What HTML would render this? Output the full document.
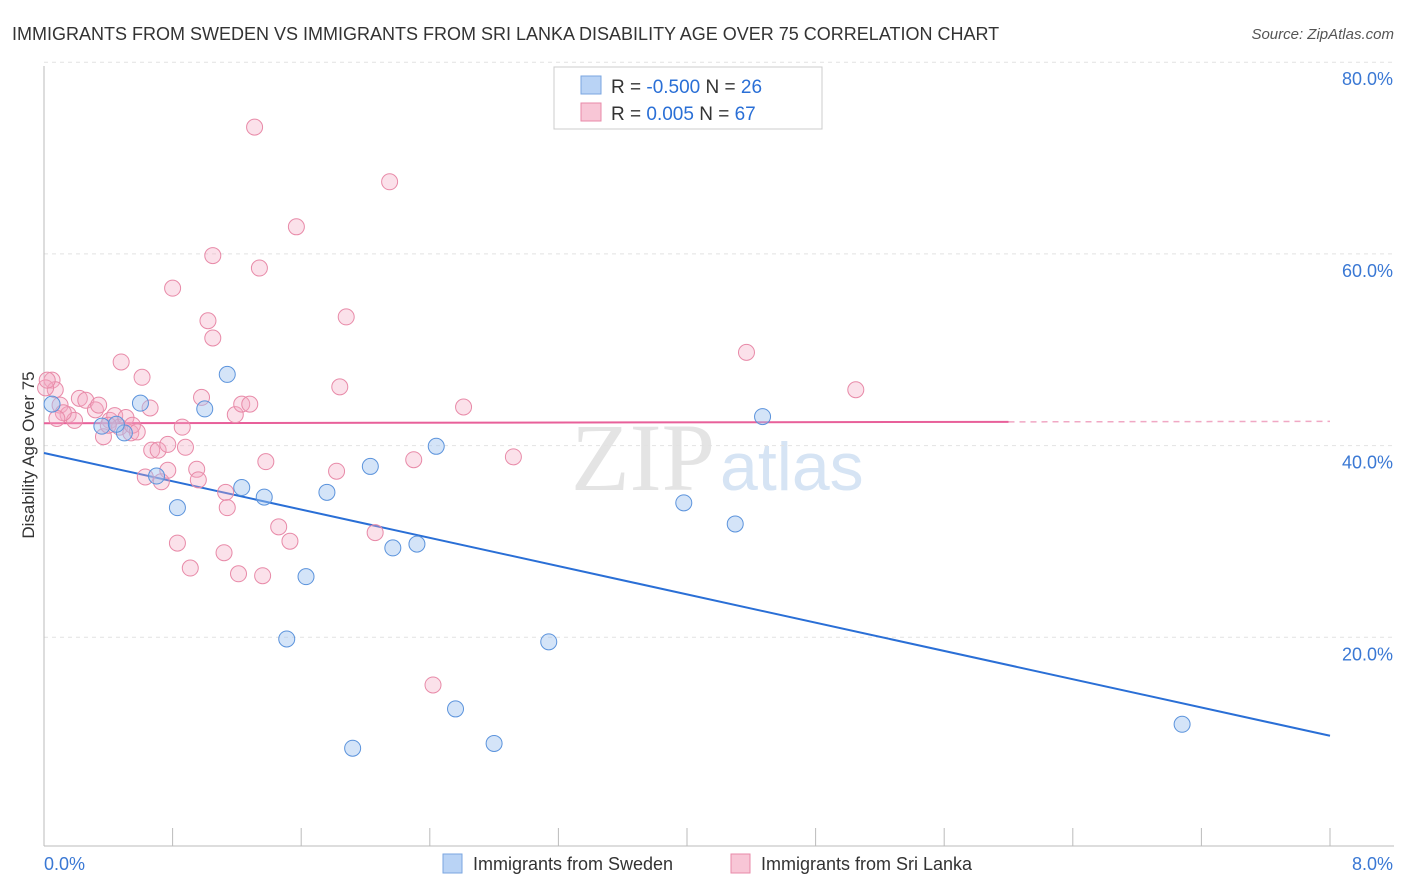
<!DOCTYPE html>
<html><head><meta charset="utf-8"><style>
body{margin:0;background:#fff;font-family:"Liberation Sans",sans-serif}
svg{display:block}
</style></head><body>
<svg id="chart" width="1406" height="892" xmlns="http://www.w3.org/2000/svg">
<text x="12" y="40" font-size="18" fill="#333">IMMIGRANTS FROM SWEDEN VS IMMIGRANTS FROM SRI LANKA DISABILITY AGE OVER 75 CORRELATION CHART</text>
<text x="1394" y="39" font-size="15" fill="#555" font-style="italic" text-anchor="end">Source: ZipAtlas.com</text>
<text x="715" y="490" font-size="96" fill="#e4e4e4" text-anchor="end" font-family="Liberation Serif">ZIP</text>
<text x="720" y="490" font-size="68" fill="#d6e4f4">atlas</text>
<text x="34" y="455" font-size="17" fill="#333" text-anchor="middle" transform="rotate(-90 34 455)">Disability Age Over 75</text>
<g id="grid"></g><g id="axes"></g><g id="lines"></g><g id="pts"></g>
<g>
<rect x="554" y="67" width="268" height="62" fill="#fff" stroke="#ccc"/>
<rect x="581" y="76" width="20" height="18" fill="#b9d3f5" stroke="#7aa6e0"/>
<text x="611" y="93" font-size="19" fill="#333">R = <tspan fill="#2a6fd6">-0.500</tspan>   N = <tspan fill="#2a6fd6">26</tspan></text>
<rect x="581" y="103" width="20" height="18" fill="#f8c6d6" stroke="#e88aa8"/>
<text x="611" y="120" font-size="19" fill="#333">R =   <tspan fill="#2a6fd6">0.005</tspan>   N = <tspan fill="#2a6fd6">67</tspan></text>
</g>
<g>
<rect x="443" y="854" width="19" height="19" fill="#b9d3f5" stroke="#7aa6e0"/>
<text x="473" y="870" font-size="18" fill="#333">Immigrants from Sweden</text>
<rect x="731" y="854" width="19" height="19" fill="#f8c6d6" stroke="#e88aa8"/>
<text x="761" y="870" font-size="18" fill="#333">Immigrants from Sri Lanka</text>
</g>
</svg>
<script>
const swedenX=[0.05,0.36,0.50,0.45,0.60,0.70,0.83,1.00,1.14,1.23,1.37,1.51,1.63,1.76,1.92,2.03,2.17,2.32,2.44,2.56,2.80,3.14,3.98,4.30,4.47,7.08];
const swedenY=[46.1,43.8,43.1,44.0,46.2,38.6,35.3,45.6,49.2,37.4,36.4,21.6,28.1,36.9,10.2,39.6,31.1,31.5,41.7,14.3,10.7,21.3,35.8,33.6,44.8,12.7];
const lankaX=[0.05,0.07,0.10,0.15,0.19,0.22,0.26,0.32,0.37,0.41,0.44,0.47,0.51,0.54,0.55,0.58,0.48,0.61,0.66,0.63,0.67,0.71,0.73,0.77,0.77,0.80,0.83,0.86,0.88,0.91,0.95,0.96,0.98,1.02,1.05,1.05,1.12,1.13,1.14,1.19,1.21,1.23,1.28,1.31,1.34,1.36,1.38,1.46,1.53,1.57,1.82,1.84,1.88,2.06,2.15,2.30,2.42,2.61,2.92,4.37,5.05,0.01,0.02,0.34,0.12,0.40,0.08];
const lankaY=[48.6,47.6,46.0,45.0,44.4,46.7,46.5,45.5,42.7,44.4,44.9,43.7,44.7,43.1,43.9,43.2,50.5,48.9,45.7,38.5,41.3,41.3,38.0,39.2,41.9,58.2,31.6,43.7,41.6,29.0,39.3,38.2,46.8,54.8,61.6,53.0,30.6,36.9,35.3,45.0,28.4,46.1,46.1,75.0,60.3,28.2,40.1,33.3,31.8,64.6,39.1,47.9,55.2,32.7,69.3,40.3,16.8,45.8,40.6,51.5,47.6,47.8,48.6,46.0,45.2,43.9,44.6];
const yTicks=[20,40,60,80];
const xTickLabels=["0.0%","8.0%"];
const swedenLine=[41.0,11.5];
const lankaLine=[44.1,44.3];
const NS="http://www.w3.org/2000/svg";
const sx=v=>44+v/8*1286, sy=v=>846-v/20*191.7;
function mk(tag,attrs,parent){const e=document.createElementNS(NS,tag);for(const k in attrs)e.setAttribute(k,attrs[k]);document.getElementById(parent).appendChild(e);return e;}
yTicks.forEach(t=>{
 const l=mk('line',{x1:44,x2:1394,y1:sy(t)-17,y2:sy(t)-17,stroke:'#e2e2e2','stroke-dasharray':'4,4'},'grid');
 
 
 const tx=mk('text',{x:1393,y:sy(t)+6,'font-size':18,fill:'#3a78d4','text-anchor':'end'},'grid');
 tx.textContent=t.toFixed(1)+'%';
 
 
});
mk('line',{x1:44,x2:44,y1:66,y2:846,stroke:'#bbb'},'axes');
mk('line',{x1:44,x2:1394,y1:846,y2:846,stroke:'#bbb'},'axes');
for(let i=0;i<=10;i++){mk('line',{x1:sx(i*0.8),x2:sx(i*0.8),y1:828,y2:846,stroke:'#bbb'},'axes');}
xTickLabels.forEach((s,i)=>{
 const t=mk('text',{x:i?1393:44,y:870,'font-size':18,fill:'#3a78d4','text-anchor':i?'end':'start'},'axes');
 t.textContent=s;
 
 
});
const bl=mk('line',{x1:sx(0),y1:sy(swedenLine[0]),x2:sx(8),y2:sy(swedenLine[1]),stroke:'#2a6fd6','stroke-width':2},'lines');


const pm=lankaLine[0]+(lankaLine[1]-lankaLine[0])*0.75;
const pl=mk('line',{x1:sx(0),y1:sy(lankaLine[0]),x2:sx(6),y2:sy(pm),stroke:'#e8609a','stroke-width':2},'lines');


const pd=mk('line',{x1:sx(6),y1:sy(pm),x2:sx(8),y2:sy(lankaLine[1]),stroke:'#f0a8c4','stroke-width':1.5,'stroke-dasharray':'6,5'},'lines');


lankaX.forEach((x,i)=>{
 const c=mk('circle',{cx:sx(x),cy:sy(lankaY[i]),r:8,fill:'rgba(244,170,196,0.35)',stroke:'#e88aa8','stroke-width':1},'pts');
 
 
});
swedenX.forEach((x,i)=>{
 const c=mk('circle',{cx:sx(x),cy:sy(swedenY[i]),r:8,fill:'rgba(160,196,240,0.45)',stroke:'#5b93dc','stroke-width':1},'pts');
 
 
});
</script>
</body></html>
